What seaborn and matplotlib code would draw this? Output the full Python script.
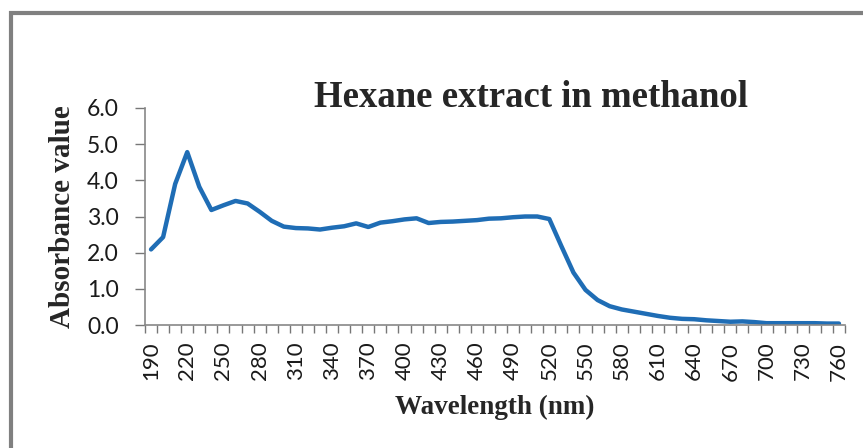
import matplotlib
matplotlib.use("Agg")
import matplotlib.pyplot as plt
import seaborn as sns
import numpy as np
import pandas as pd
from matplotlib.patches import Rectangle

wavelength = list(range(190, 770, 10))
absorbance = [2.09, 2.43, 3.90, 4.78, 3.82, 3.18, 3.31, 3.43, 3.36, 3.13,
              2.88, 2.72, 2.68, 2.67, 2.64, 2.69, 2.73, 2.81, 2.71, 2.83,
              2.87, 2.92, 2.95, 2.82, 2.85, 2.86, 2.88, 2.90, 2.94, 2.95,
              2.98, 3.00, 3.00, 2.93, 2.18, 1.45, 0.97, 0.69, 0.52, 0.43,
              0.37, 0.31, 0.25, 0.20, 0.17, 0.16, 0.13, 0.11, 0.09, 0.10,
              0.08, 0.05, 0.05, 0.05, 0.05, 0.05, 0.04, 0.04]
xtick_labels = list(range(190, 770, 30))
ytick_values = [0.0, 1.0, 2.0, 3.0, 4.0, 5.0, 6.0]

df = pd.DataFrame({"Wavelength": wavelength, "Absorbance": absorbance})

sns.set_theme(style="white")
fig = plt.figure(figsize=(8.63, 4.48), dpi=100)
ax = fig.add_axes([145/863, 123/448, 700/863, 217/448])

sns.lineplot(data=df, x="Wavelength", y="Absorbance", ax=ax,
             color="#1f6db5", linewidth=3.2)

ax.set_xlim(185, 765)
ax.set_ylim(0, 6)
ax.set_xticks(xtick_labels)
ax.set_xticklabels([str(v) for v in xtick_labels], rotation=90,
                   fontsize=16, family="Lato", color="#1a1a1a")
ax.set_xticks(np.arange(185, 766, 10), minor=True)
ax.set_yticks(ytick_values)
ax.set_yticklabels([f"{v:.1f}" for v in ytick_values],
                   fontsize=16.5, family="Lato", color="#1a1a1a")

ax.tick_params(axis="x", which="major", length=0, pad=12)
ax.tick_params(axis="x", which="minor", length=6, width=1, color="#777777",
               direction="out", bottom=True)
ax.tick_params(axis="y", which="major", length=7, width=1, color="#777777",
               direction="out", left=True, pad=12)

for s in ["top", "right"]:
    ax.spines[s].set_visible(False)
for s in ["left", "bottom"]:
    ax.spines[s].set_color("#888888")
    ax.spines[s].set_linewidth(1.2)

ax.set_xlabel("Wavelength (nm)", fontsize=19.5, family="Liberation Serif",
              fontweight="bold", labelpad=10)
ax.set_ylabel("Absorbance value", fontsize=21, family="Liberation Serif",
              fontweight="bold", labelpad=8)

fig.text(531/863, 1 - 97/448, "Hexane extract in methanol", ha="center",
         va="center", fontsize=26.5, family="Liberation Serif", fontweight="bold")

fig.patches.append(Rectangle((11/863, -0.1), 1.2, (448 - 13)/448 + 0.1,
                             transform=fig.transFigure, fill=False,
                             edgecolor="#808080", linewidth=3))

fig.savefig("out.png", dpi=100)
